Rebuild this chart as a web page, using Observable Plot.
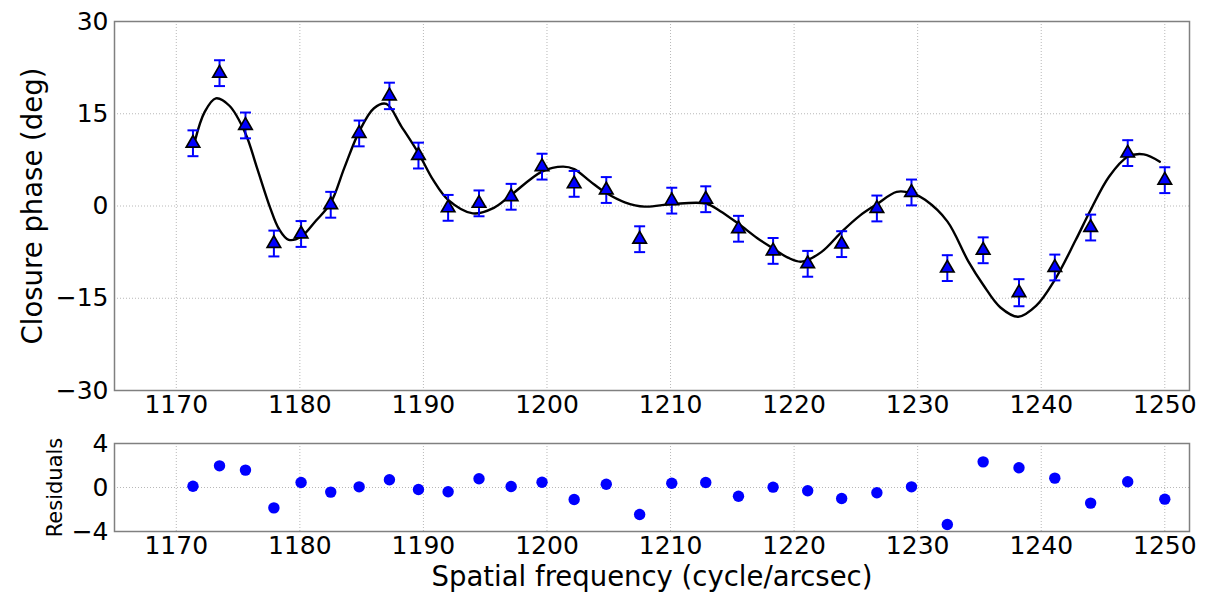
<!DOCTYPE html>
<html>
<head>
<meta charset="utf-8">
<script src="https://cdn.jsdelivr.net/npm/d3@7"></script>
<script src="https://cdn.jsdelivr.net/npm/@observablehq/plot@0.6"></script>
<style>
  body { margin: 0; background: #fff; }
  #chart svg { display: block; }
</style>
</head>
<body>
<div id="chart"></div>
<script>
// Measured closure phases (deg) with 1-sigma errors, versus spatial frequency (cycle/arcsec)
const freq = [1171.35, 1173.5, 1175.6, 1177.9, 1180.1, 1182.5, 1184.8, 1187.25, 1189.6, 1192.0,
              1194.5, 1197.1, 1199.6, 1202.2, 1204.8, 1207.5, 1210.1, 1212.85, 1215.5, 1218.3,
              1221.1, 1223.85, 1226.7, 1229.5, 1232.4, 1235.3, 1238.2, 1241.1, 1244.0, 1247.0, 1250.0];
const phase = [10.2, 21.6, 13.1, -6.1, -4.55, 0.2, 11.8, 17.9, 8.2, -0.3,
               0.43, 1.5, 6.4, 3.6, 2.6, -5.4, 0.87, 1.1, -3.7, -7.3,
               -9.4, -6.2, -0.4, 2.2, -10.1, -7.2, -14.1, -10.0, -3.5, 8.6, 4.2];
const phaseErr = [2.1, 2.1, 2.1, 2.1, 2.1, 2.1, 2.1, 2.15, 2.1, 2.1,
                  2.1, 2.1, 2.1, 2.1, 2.1, 2.1, 2.1, 2.1, 2.1, 2.1,
                  2.1, 2.1, 2.1, 2.1, 2.1, 2.1, 2.2, 2.1, 2.1, 2.1, 2.1];
// Residuals (data - model)
const resid = [0.12, 1.97, 1.58, -1.85, 0.45, -0.42, 0.06, 0.7, -0.18, -0.39,
               0.79, 0.09, 0.48, -1.09, 0.3, -2.45, 0.39, 0.45, -0.79, 0.03,
               -0.3, -1.0, -0.48, 0.06, -3.36, 2.33, 1.79, 0.85, -1.42, 0.52, -1.06];
// Best-fit model curve, sampled
const fitFreq = [1171.5, 1172.3, 1173.2, 1174.3, 1175.6, 1176.5, 1177.6, 1178.3, 1179.1, 1180.1,
                 1181.3, 1182.5, 1183.6, 1184.8, 1186.0, 1187.0, 1188.2, 1189.6, 1190.8, 1192.0,
                 1194.0, 1195.7, 1197.1, 1199.6, 1201.3, 1202.2, 1203.5, 1204.8, 1206.3, 1207.9,
                 1210.1, 1212.85, 1214.0, 1215.5, 1217.0, 1218.3, 1219.5, 1220.6, 1222.2, 1223.85,
                 1225.3, 1226.7, 1228.3, 1229.5, 1230.6, 1232.4, 1234.1, 1235.3, 1236.7, 1238.15,
                 1239.6, 1241.1, 1242.8, 1244.0, 1245.5, 1247.0, 1248.3, 1249.6];
const fitPhase = [10.5, 15.3, 17.5, 16.3, 11.8, 6.4, -0.3, -3.7, -5.5, -5.0,
                  -2.4, 0.5, 6.2, 12.1, 15.9, 16.6, 13.0, 8.6, 4.2, 1.0,
                  -1.2, -0.3, 1.8, 5.6, 6.4, 6.0, 4.0, 2.1, 0.6, -0.1,
                  0.3, 0.4, -0.8, -2.9, -5.2, -6.9, -8.4, -9.05, -7.5, -4.2,
                  -1.6, 0.3, 2.3, 2.1, 1.0, -2.5, -9.0, -12.8, -16.5, -18.0,
                  -16.2, -12.0, -5.5, -0.65, 4.8, 8.0, 8.4, 7.2];

const xTicks = [1170, 1180, 1190, 1200, 1210, 1220, 1230, 1240, 1250];
const phaseTicks = [-30, -15, 0, 15, 30];
const residTicks = [-4, 0, 4];

const points = freq.map((f, i) => ({f, p: phase[i], e: phaseErr[i], r: resid[i]}));
const fit = fitFreq.map((f, i) => ({f, p: fitPhase[i]}));

// Horizontal bar used as the error-bar cap
const capSymbol = {
  draw(ctx, size) {
    const w = Math.sqrt(size) / 2;
    ctx.moveTo(-w, 0);
    ctx.lineTo(w, 0);
  }
};

const blue = "#0000ff";
const gridStyle = {stroke: "#b8b8b8", strokeOpacity: 1, strokeWidth: 1, strokeDasharray: "1,2"};
const font = "DejaVu Sans, Liberation Sans, sans-serif";
const fmt = d3.format("d");
const tickFont = 25;
const labelFont = 27.5;

const topPlot = Plot.plot({
  width: 1214,
  height: 420,
  marginLeft: 114,
  marginRight: 25,
  marginTop: 21,
  marginBottom: 30,
  style: {fontFamily: font, color: "#000", background: "#fff", overflow: "visible"},
  x: {domain: [1165, 1252]},
  y: {domain: [-30, 30]},
  marks: [
    Plot.gridX(xTicks, gridStyle),
    Plot.gridY(phaseTicks, gridStyle),
    Plot.axisX(xTicks, {tickSize: 0, tickPadding: 5, fontSize: tickFont, tickFormat: fmt, label: null}),
    Plot.axisY(phaseTicks, {tickSize: 0, tickPadding: 6, fontSize: tickFont, tickFormat: fmt, label: null}),
    Plot.axisY([], {
      tickSize: 0, fontSize: labelFont,
      label: "Closure phase (deg)", labelAnchor: "center", labelArrow: "none", labelOffset: 92
    }),
    Plot.line(fit, {x: "f", y: "p", curve: "catmull-rom", stroke: "#000", strokeWidth: 2.4}),
    Plot.ruleX(points, {x: "f", y1: d => d.p - d.e, y2: d => d.p + d.e, stroke: blue, strokeWidth: 2}),
    Plot.dot(points, {x: "f", y: d => d.p + d.e, symbol: capSymbol, r: 6.2, stroke: blue, strokeWidth: 2}),
    Plot.dot(points, {x: "f", y: d => d.p - d.e, symbol: capSymbol, r: 6.2, stroke: blue, strokeWidth: 2}),
    Plot.dot(points, {x: "f", y: "p", symbol: "triangle", r: 5, fill: blue, stroke: "#000", strokeWidth: 1.7}),
    Plot.frame({stroke: "#808080", strokeWidth: 1.5})
  ]
});

const bottomPlot = Plot.plot({
  width: 1214,
  height: 174,
  marginLeft: 114,
  marginRight: 25,
  marginTop: 23,
  marginBottom: 63,
  style: {fontFamily: font, color: "#000", background: "#fff", overflow: "visible"},
  x: {domain: [1165, 1252]},
  y: {domain: [-4, 4]},
  marks: [
    Plot.gridX(xTicks, gridStyle),
    Plot.gridY(residTicks, gridStyle),
    Plot.axisX(xTicks, {tickSize: 0, tickPadding: 5, fontSize: tickFont, tickFormat: fmt, label: null}),
    Plot.axisX([], {
      tickSize: 0, fontSize: labelFont,
      label: "Spatial frequency (cycle/arcsec)", labelAnchor: "center", labelArrow: "none", labelOffset: 54
    }),
    Plot.axisY(residTicks, {tickSize: 0, tickPadding: 6, fontSize: tickFont, tickFormat: fmt, label: null}),
    Plot.axisY([], {
      tickSize: 0, fontSize: 21,
      label: "Residuals", labelAnchor: "center", labelArrow: "none", labelOffset: 67
    }),
    Plot.dot(points, {x: "f", y: "r", r: 5.7, fill: blue}),
    Plot.frame({stroke: "#808080", strokeWidth: 1.5})
  ]
});

const chart = document.getElementById("chart");
chart.appendChild(topPlot);
chart.appendChild(bottomPlot);
</script>
</body>
</html>
